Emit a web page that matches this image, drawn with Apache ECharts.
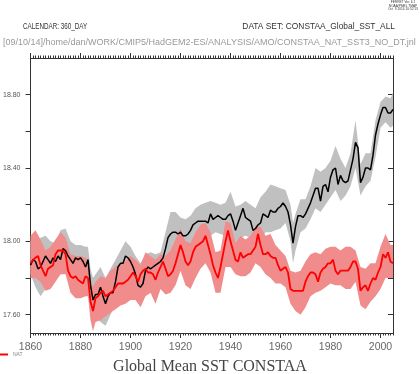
<!DOCTYPE html>
<html><head><meta charset="utf-8">
<script src="https://cdn.jsdelivr.net/npm/echarts@6/dist/echarts.min.js"></script>
<style>html,body{margin:0;padding:0;background:#fff}#c{width:420px;height:374px}</style>
</head><body><div id="c"></div>
<script>
const FIRST_YEAR = 1860;
// ALL (black line) annual 1860-2005
const ALL_SST = [
17.87,17.90,17.89,17.85,17.86,17.89,17.92,17.90,17.88,17.91,
17.89,17.92,17.90,17.96,17.95,17.92,17.90,17.88,17.91,17.90,
17.91,17.89,17.86,17.90,17.76,17.68,17.71,17.71,17.75,17.70,
17.66,17.70,17.72,17.72,17.78,17.86,17.88,17.88,17.92,17.91,
17.89,17.86,17.82,17.76,17.75,17.77,17.84,17.86,17.85,17.86,
17.87,17.88,17.89,17.91,17.96,18.02,18.04,18.05,18.05,18.04,
18.05,18.03,18.03,18.04,18.06,18.09,18.10,18.11,18.11,18.11,
18.11,18.10,18.15,18.12,18.13,18.14,18.13,18.12,18.12,18.14,
18.15,18.11,18.06,18.10,18.14,18.18,18.13,18.12,18.11,18.06,
18.07,18.09,18.10,18.15,18.14,18.13,18.17,18.16,18.16,18.18,
18.19,18.21,18.19,18.16,18.09,17.99,18.08,18.14,18.14,18.13,
18.15,18.18,18.21,18.25,18.29,18.29,18.22,18.30,18.31,18.27,
18.35,18.39,18.40,18.31,18.36,18.33,18.32,18.33,18.39,18.45,
18.54,18.51,18.32,18.35,18.40,18.40,18.39,18.47,18.58,18.64,
18.69,18.73,18.73,18.70,18.70,18.72
];
// NAT (red line) annual 1860-2005
const NAT_SST = [
17.88,17.90,17.91,17.92,17.87,17.84,17.81,17.85,17.86,17.87,
17.93,17.95,17.95,17.95,17.93,17.84,17.81,17.80,17.81,17.79,
17.78,17.77,17.81,17.80,17.67,17.62,17.69,17.70,17.72,17.73,
17.70,17.71,17.72,17.73,17.75,17.77,17.77,17.77,17.78,17.79,
17.81,17.83,17.81,17.78,17.82,17.84,17.85,17.83,17.83,17.82,
17.79,17.83,17.86,17.89,17.85,17.81,17.82,17.84,17.88,17.93,
17.98,17.94,17.89,17.87,17.89,17.94,17.97,17.98,17.99,18.00,
18.03,17.98,17.93,17.87,17.83,17.80,17.86,17.93,18.00,18.06,
18.00,17.95,17.90,17.89,17.94,17.91,17.92,17.93,17.93,17.95,
17.97,18.04,17.98,17.93,17.93,17.94,17.92,17.91,17.91,17.87,
17.84,17.85,17.86,17.83,17.74,17.73,17.73,17.73,17.73,17.73,
17.78,17.81,17.83,17.83,17.82,17.78,17.83,17.85,17.86,17.88,
17.88,17.90,17.84,17.82,17.84,17.84,17.84,17.84,17.86,17.89,
17.89,17.85,17.73,17.75,17.76,17.73,17.77,17.80,17.79,17.83,
17.86,17.93,17.91,17.94,17.89,17.88
];
// grey spread band (ALL)
const ALL_BAND_YEARS = [1860,1862,1864,1866,1868,1870,1872,1874,1876,1878,1880,1882,1883,1884,1885,1886,1888,1890,1892,1894,1896,1898,1900,1902,1904,1906,1908,1910,1912,1914,1916,1918,1920,1922,1924,1926,1928,1930,1932,1934,1936,1938,1940,1942,1944,1946,1948,1950,1952,1954,1956,1958,1960,1962,1964,1965,1966,1968,1970,1972,1974,1976,1978,1980,1982,1984,1986,1988,1990,1992,1994,1996,1998,2000,2002,2004,2005];
const ALL_UPPER = [18.00,18.01,18.02,18.03,18.00,17.99,18.06,18.07,18.00,17.98,17.98,17.97,17.97,17.85,17.80,17.82,17.86,17.80,17.85,17.90,17.95,18.00,17.97,17.92,17.88,17.93,17.94,17.93,17.94,18.05,18.16,18.16,18.13,18.12,18.14,18.18,18.20,18.21,18.22,18.21,18.20,18.21,18.27,18.19,18.20,18.22,18.20,18.18,18.24,18.27,18.31,18.30,18.29,18.28,18.20,18.10,18.15,18.23,18.23,18.30,18.40,18.38,18.40,18.44,18.52,18.45,18.40,18.48,18.66,18.42,18.48,18.48,18.66,18.76,18.79,18.78,18.81];
const ALL_LOWER = [17.82,17.75,17.70,17.74,17.77,17.80,17.82,17.83,17.81,17.82,17.80,17.79,17.80,17.66,17.60,17.59,17.56,17.54,17.60,17.66,17.78,17.82,17.79,17.73,17.69,17.71,17.77,17.80,17.82,17.88,17.95,17.94,17.93,17.93,17.96,18.02,18.03,18.04,18.03,18.05,18.04,18.03,18.05,17.97,18.02,18.03,18.02,17.98,18.01,18.05,18.05,18.06,18.07,18.10,18.00,17.88,17.95,18.05,18.07,18.12,18.18,18.16,18.20,18.24,18.28,18.22,18.25,18.30,18.40,18.25,18.30,18.33,18.46,18.62,18.65,18.62,18.63];
// pink spread band (NAT)
const NAT_BAND_YEARS = [1860,1862,1864,1866,1868,1870,1872,1874,1876,1878,1880,1882,1883,1884,1885,1886,1888,1890,1892,1894,1896,1898,1900,1902,1904,1906,1908,1910,1912,1914,1916,1918,1920,1922,1924,1926,1928,1930,1932,1934,1936,1938,1940,1942,1944,1946,1948,1950,1952,1954,1956,1958,1960,1962,1964,1966,1968,1970,1972,1974,1976,1978,1980,1982,1984,1986,1988,1990,1992,1994,1996,1998,2000,2002,2004,2005];
const NAT_UPPER = [18.03,18.06,18.01,17.95,17.97,18.01,18.05,18.02,17.93,17.92,17.92,17.91,17.90,17.80,17.75,17.78,17.81,17.80,17.84,17.86,17.88,17.89,17.92,17.90,17.87,17.94,17.92,17.90,17.93,17.92,17.95,18.01,18.07,18.00,17.99,18.05,18.09,18.10,18.05,17.94,17.95,18.11,18.10,17.99,18.03,18.01,18.03,18.08,18.08,18.03,18.04,17.98,17.95,17.92,17.84,17.83,17.84,17.89,17.93,17.94,17.93,17.96,17.97,17.97,17.95,17.97,17.97,17.95,17.86,17.85,17.88,17.88,17.97,18.04,17.98,17.98];
const NAT_LOWER = [17.80,17.80,17.78,17.73,17.74,17.78,17.82,17.82,17.72,17.69,17.69,17.70,17.70,17.57,17.51,17.56,17.57,17.59,17.61,17.63,17.65,17.66,17.68,17.68,17.64,17.70,17.72,17.66,17.74,17.71,17.72,17.76,17.84,17.76,17.74,17.80,17.85,17.88,17.83,17.72,17.72,17.86,17.86,17.82,17.81,17.81,17.83,17.88,17.86,17.82,17.80,17.77,17.77,17.75,17.66,17.62,17.60,17.64,17.70,17.72,17.73,17.75,17.77,17.76,17.76,17.74,17.74,17.78,17.65,17.63,17.67,17.70,17.74,17.80,17.80,17.80];

const X_LABELS = [1860,1880,1900,1920,1940,1960,1980,2000];
const Y_LABELS = [17.6,18.0,18.4,18.8];
const Y_TICKS = [17.6,17.8,18.0,18.2,18.4,18.6,18.8];

const years = ALL_SST.map((_, i) => FIRST_YEAR + i);
const pairs = (xs, ys) => xs.map((x, i) => [x, ys[i]]);

function band(name, xs, up, lo, color, z) {
  return {
    type: 'custom', name, coordinateSystem: 'cartesian2d', xAxisIndex: 0, yAxisIndex: 0, z,
    silent: true, animation: false,
    data: [[xs[0], up[0]]],
    renderItem(params, api) {
      const pts = [];
      for (let i = 0; i < xs.length; i++) pts.push(api.coord([xs[i], up[i]]));
      for (let i = xs.length - 1; i >= 0; i--) pts.push(api.coord([xs[i], lo[i]]));
      return { type: 'polygon', shape: { points: pts }, style: { fill: color } };
    }
  };
}

const AX = '#333';
const xMajor = (pos, label) => ({
  type: 'value', position: pos, min: 1860, max: 2005, interval: 20,
  axisLine: { show: true, onZero: false, lineStyle: { color: AX, width: 1 } },
  axisTick: { show: true, length: 5, inside: false, customValues: X_LABELS, lineStyle: { color: AX } },
  axisLabel: label ? { show: true, customValues: X_LABELS, formatter: v => String(v), fontSize: 10.5, color: '#666', margin: 9, fontFamily: 'Liberation Sans' } : { show: false },
  splitLine: { show: false }
});
const xMinor = (pos) => ({
  type: 'value', position: pos, min: 1860, max: 2005, interval: 1,
  axisLine: { show: false, onZero: false },
  axisTick: { show: true, length: 2.5, lineStyle: { color: AX } },
  axisLabel: { show: false }, splitLine: { show: false }
});

const chart = echarts.init(document.getElementById('c'), null, { renderer: 'canvas' });
chart.setOption({
  animation: false,
  backgroundColor: '#fff',
  grid: { left: 27, right: 27, top: 58, bottom: 41, containLabel: false },
  legend: {
    data: ['NAT'], left: 0, top: 352, icon: 'rect', itemWidth: 8, itemHeight: 2, padding: 0,
    textStyle: { fontSize: 5, color: '#888', fontFamily: 'Liberation Sans' }
  },
  xAxis: [xMajor('bottom', true), xMinor('bottom'), xMajor('top', false), xMinor('top')],
  yAxis: [
    {
      type: 'value', position: 'left', min: 17.5, max: 19.0,
      axisLine: { show: true, onZero: false, lineStyle: { color: AX, width: 1 } },
      axisTick: { show: true, length: 5, customValues: Y_TICKS, lineStyle: { color: AX } },
      axisLabel: { show: true, customValues: Y_LABELS, formatter: v => Number(v).toFixed(2), fontSize: 7, color: '#555', margin: 10, fontFamily: 'Liberation Sans' },
      splitLine: { show: false }
    },
    {
      type: 'value', position: 'right', min: 17.5, max: 19.0,
      axisLine: { show: true, onZero: false, lineStyle: { color: AX, width: 1 } },
      axisTick: { show: true, length: 5, inside: true, customValues: Y_TICKS, lineStyle: { color: AX } },
      axisLabel: { show: false }, splitLine: { show: false }
    }
  ],
  series: [
    band('ALL spread', ALL_BAND_YEARS, ALL_UPPER, ALL_LOWER, '#c0c0c0', 1),
    band('NAT spread', NAT_BAND_YEARS, NAT_UPPER, NAT_LOWER, '#f08c8c', 2),
    { type: 'line', name: 'ALL', data: pairs(years, ALL_SST), showSymbol: false, z: 3,
      lineStyle: { color: '#000', width: 1.5 }, itemStyle: { color: '#000' } },
    { type: 'line', name: 'NAT', data: pairs(years, NAT_SST), showSymbol: false, z: 4,
      lineStyle: { color: '#ff0000', width: 1.8 }, itemStyle: { color: '#ff0000' } }
  ],
  graphic: [
    { type: 'text', x: 403, y: 2.5, style: { text: 'FERRET Ver. 6.1', fontSize: 3.2, fill: '#333', align: 'center', verticalAlign: 'middle', fontFamily: 'Liberation Sans' } },
    { type: 'text', x: 403, y: 5.8, style: { text: 'NOAA/PMEL TMAP', fontSize: 3.2, fill: '#333', align: 'center', verticalAlign: 'middle', fontFamily: 'Liberation Sans' } },
    { type: 'text', x: 403, y: 9.1, style: { text: 'Oct  9 2014 10:52:13', fontSize: 3.2, fill: '#333', align: 'center', verticalAlign: 'middle', fontFamily: 'Liberation Sans' } },
    { type: 'text', x: 23, y: 27, scaleX: 0.75, style: { text: 'CALENDAR: 360_DAY', fontSize: 8.4, fill: '#333', align: 'left', verticalAlign: 'middle', fontFamily: 'Liberation Sans' } },
    { type: 'text', x: 395, y: 27, style: { text: 'DATA SET: CONSTAA_Global_SST_ALL', fontSize: 8.4, fill: '#333', align: 'right', verticalAlign: 'middle', fontFamily: 'Liberation Sans' } },
    { type: 'text', x: 3, y: 43, style: { text: '[09/10/14]/home/dan/WORK/CMIP5/HadGEM2-ES/ANALYSIS/AMO/CONSTAA_NAT_SST3_NO_DT.jnl', fontSize: 9.0, fill: '#999', align: 'left', verticalAlign: 'middle', fontFamily: 'Liberation Sans' } },
    { type: 'text', x: 210, y: 367, style: { text: 'Global Mean SST CONSTAA', fontSize: 16, fill: '#444', align: 'center', verticalAlign: 'middle', fontFamily: 'Liberation Serif' } }
  ]
});
</script></body></html>
